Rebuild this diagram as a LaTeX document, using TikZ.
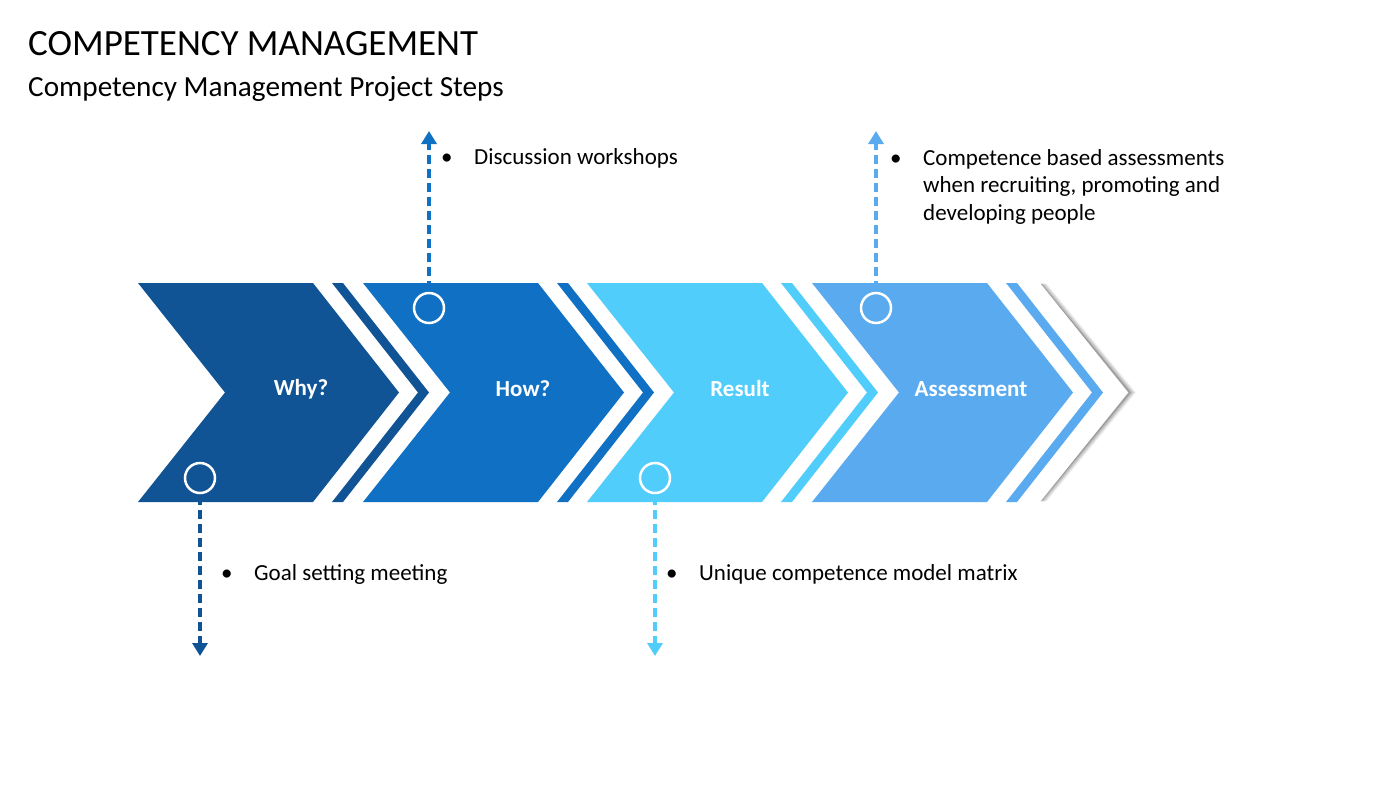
\documentclass[tikz,border=0pt]{standalone}
\usepackage{fontspec}
\setmainfont{Carlito}
\usetikzlibrary{arrows.meta}
\definecolor{cA}{RGB}{17,84,150}
\definecolor{cB}{RGB}{16,113,196}
\definecolor{cC}{RGB}{80,205,250}
\definecolor{cD}{RGB}{90,170,240}
\newcommand{\chev}[2]{%
  \fill[#2] (#1,283) -- ++(175,0) -- ++(86,109.5) -- ++(-86,109.5) -- ++(-175,0) -- ++(87,-109.5) -- cycle;
  \fill[#2] (#1+194,283) -- ++(11,0) -- ++(86,109.5) -- ++(-86,109.5) -- ++(-11,0) -- ++(86,-109.5) -- cycle;}
\begin{document}
\begin{tikzpicture}[x=1pt,y=-1pt,
  body/.style={font=\fontsize{23}{27.6}\selectfont, inner sep=0pt, anchor=base west, text=black},
  lbl/.style={font=\fontsize{23}{27.6}\selectfont\bfseries, text=white, inner sep=0pt},
  ring/.style={circle, draw=white, line width=2.5pt, minimum size=30pt, inner sep=0pt},
  dashline/.style={line width=4.5pt, dash pattern=on 9pt off 5pt, -{Triangle[width=15pt,length=13pt]}}]
\useasboundingbox (0,0) rectangle (1400,788);
\fill[white] (0,0) rectangle (1400,788);
% titles
\node[anchor=base west, inner sep=0pt, font=\fontsize{37}{42}\selectfont] (title) at (28,55) {COMPETENCY MANAGEMENT};
\node[anchor=base west, inner sep=0pt, font=\fontsize{29.2}{34}\selectfont] (subtitle) at (28,96) {Competency Management Project Steps};
% shadowed white chevron at the end
\foreach \o/\op in {6/0.03,5/0.05,4/0.07,3/0.09,2/0.12,1/0.16,0/0.22}{
  \draw[black, opacity=\op, line width=2pt] (1040+\o,284) -- (1129+\o,392.5) -- (1040+\o,501);
}
\fill[white] (1024,283) -- (1040,283) -- (1128,392.5) -- (1040,502) -- (1024,502) -- (1112,392.5) -- cycle;
% chevrons
\chev{138}{cA}
\chev{363}{cB}
\chev{587}{cC}
\chev{812}{cD}
% labels
\node[lbl] (why) at (301,389) {Why?};
\node[lbl] (how) at (523,389) {How?};
\node[lbl] (res) at (740,389) {Result};
\node[lbl] (ass) at (971,389) {Assessment};
% rings
\node[ring, fill=cA] (r1) at (200,478) {};
\node[ring, fill=cB] (r2) at (429,308) {};
\node[ring, fill=cC] (r3) at (655,478) {};
\node[ring, fill=cD] (r4) at (876,308) {};
% arrow ends
\coordinate (e1) at (200,656);
\coordinate (e2) at (429,131);
\coordinate (e3) at (655,656);
\coordinate (e4) at (876,131);
\draw[dashline, cA] (r1.south) ++(0,1.5) coordinate (s1) (s1) -- (e1);
\draw[dashline, cB] (r2.north) ++(0,-1.5) coordinate (s2) (s2) -- (e2);
\draw[dashline, cC] (r3.south) ++(0,1.5) coordinate (s3) (s3) -- (e3);
\draw[dashline, cD] (r4.north) ++(0,-1.5) coordinate (s4) (s4) -- (e4);
% texts
\node[body] (t2) at (441,164) {\begin{tabular}[t]{@{}p{33pt}@{}l@{}}•&Discussion workshops\end{tabular}};
\node[body] (t4) at (890,165) {\begin{tabular}[t]{@{}p{33pt}@{}l@{}}•&Competence based assessments\\&when recruiting, promoting and\\&developing people\end{tabular}};
\node[body] (t1) at (221,580) {\begin{tabular}[t]{@{}p{33pt}@{}l@{}}•&Goal setting meeting\end{tabular}};
\node[body] (t3) at (666,580) {\begin{tabular}[t]{@{}p{33pt}@{}l@{}}•&Unique competence model matrix\end{tabular}};
\end{tikzpicture}
\end{document}
